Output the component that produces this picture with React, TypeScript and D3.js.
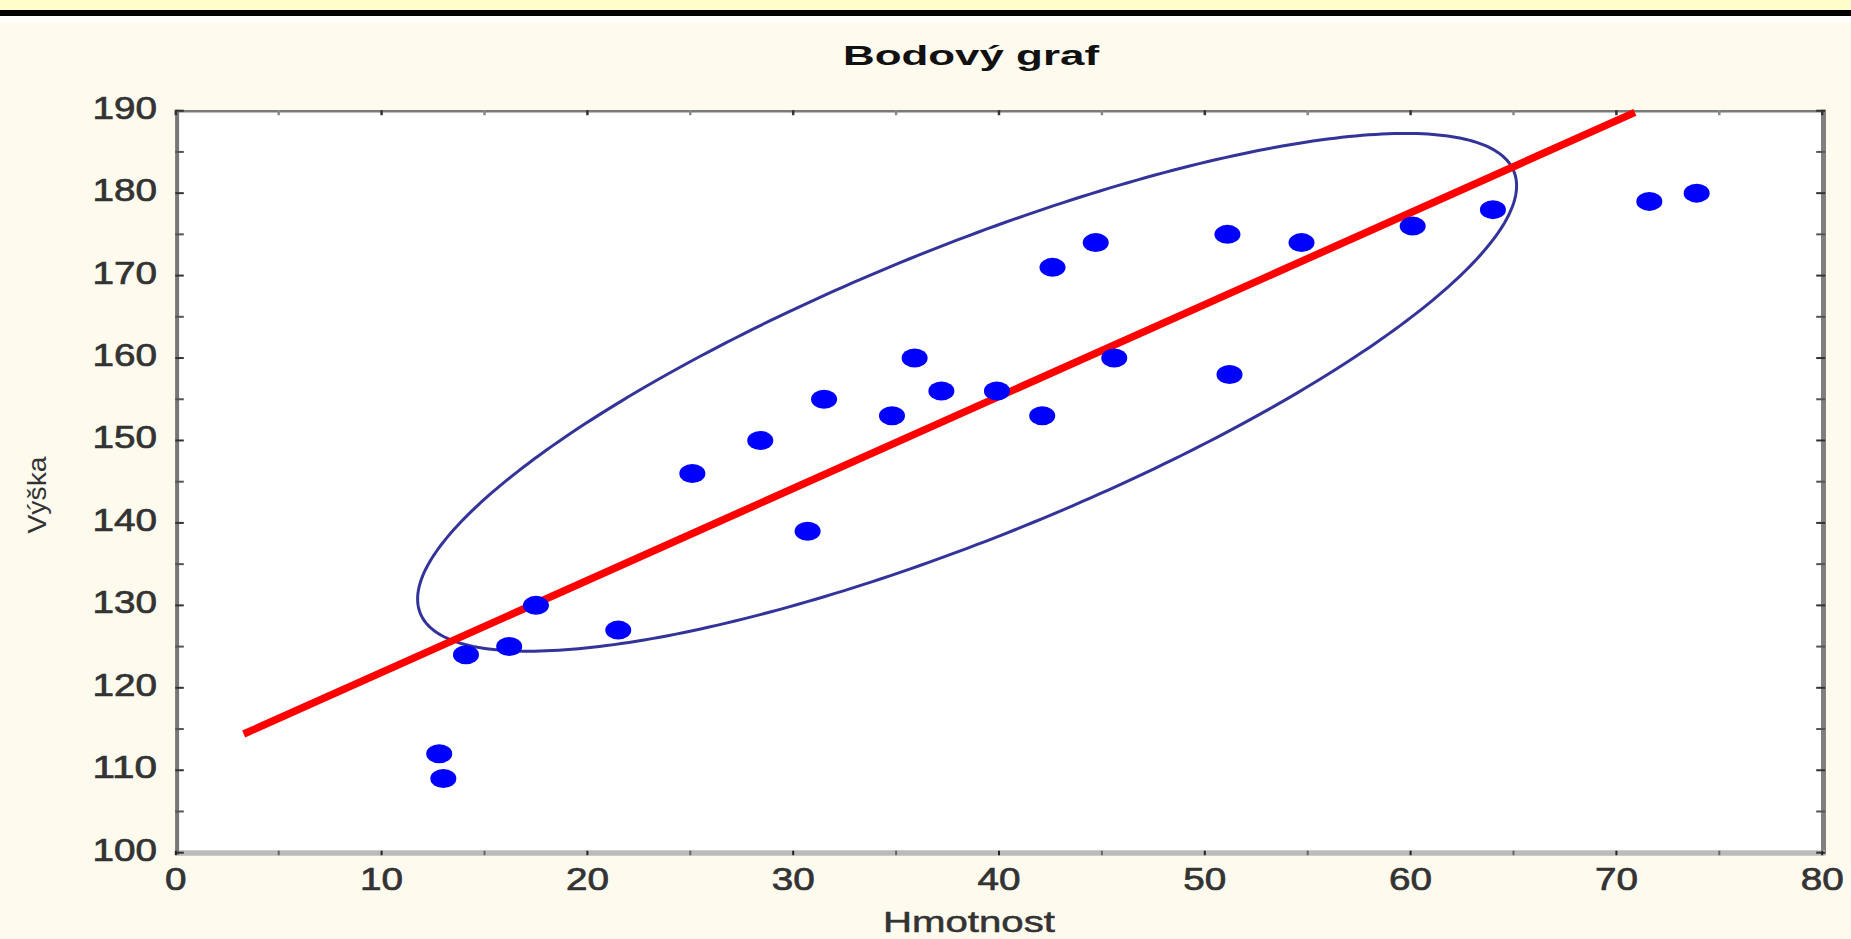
import React, { useEffect } from "react";
import * as d3 from "d3";

// ---- data ----
const hmotnost = [12.8, 13.0, 14.1, 16.2, 17.5, 21.5, 25.1, 28.4, 30.7, 31.5, 34.8, 35.9, 37.2, 39.9, 42.1, 42.6, 44.7, 45.6, 51.1, 51.2, 54.7, 60.1, 64.0, 71.6, 73.9];
const vyska = [112, 109, 124, 125, 130, 127, 146, 150, 139, 155, 153, 160, 156, 156, 153, 171, 174, 160, 175, 158, 174, 176, 178, 179, 180];

// fitted line end points (x, y)
const fitLineX = [3.3, 70.9];
const fitLineY = [114.4, 189.8];

// ellipse: centre, half ranges and correlation
const ellipseCenter = [38.45, 155.84];
const ellipseHalf = [26.7, 31.4];
const ellipseRho = 0.798;

const xTicks = [0, 10, 20, 30, 40, 50, 60, 70, 80];
const yTicks = [100, 110, 120, 130, 140, 150, 160, 170, 180, 190];
const xMinor = [5, 15, 25, 35, 45, 55, 65, 75];
const yMinor = [105, 115, 125, 135, 145, 155, 165, 175, 185];

const title = "Bodový graf";
const xTitle = "Hmotnost";
const yTitle = "Výška";

const W = 1851;
const H = 939;

export default function App() {
  useEffect(() => {
    document.body.style.margin = "0";
    document.body.style.overflow = "hidden";
  }, []);

  const x = d3.scaleLinear().domain([0, 80]).range([175.8, 1822.2]);
  const y = d3.scaleLinear().domain([100, 190]).range([852.7, 110.7]);

  const left = x(0);
  const right = x(80);
  const top = y(190);
  const bottom = y(100);

  const ts = d3.range(0, 361).map((i) => (i / 360) * Math.PI * 2);
  const ellPts: [number, number][] = ts.map((t) => [
    ellipseCenter[0] + ellipseHalf[0] * Math.cos(t),
    ellipseCenter[1] + ellipseHalf[1] * (ellipseRho * Math.cos(t) + Math.sqrt(1 - ellipseRho * ellipseRho) * Math.sin(t)),
  ]);
  const ellPath = d3
    .line<[number, number]>()
    .x((d) => x(d[0]))
    .y((d) => y(d[1]))
    .curve(d3.curveLinearClosed)(ellPts) as string;

  const fitPts: [number, number][] = fitLineX.map((v, i) => [v, fitLineY[i]]);
  const fitPath = d3
    .line<[number, number]>()
    .x((d) => x(d[0]))
    .y((d) => y(d[1]))(fitPts) as string;

  const font = "'Liberation Sans', Arial, sans-serif";
  const digitW = 21.5;
  const labelFill = "#333";

  return (
    <svg width={W} height={H} style={{ position: "absolute", left: 0, top: 0, display: "block" }}>
      {/* backgrounds */}
      <rect x={0} y={0} width={W} height={H} fill="#FEFAEE" />
      <rect x={0} y={0} width={W} height={10} fill="#FFFFCC" />
      <rect x={0} y={10} width={W} height={6} fill="#000" />
      <rect x={0} y={16} width={W} height={6} fill="#FFFFFF" />

      {/* plot area */}
      <rect x={left} y={top} width={right - left} height={bottom - top} fill="#FFFFFF" />

      {/* title */}
      <text
        x={971}
        y={65}
        textAnchor="middle"
        fontFamily={font}
        fontWeight="bold"
        fontSize={28}
        fill="#111"
        textLength={256}
        lengthAdjust="spacingAndGlyphs"
      >
        {title}
      </text>

      {/* frame */}
      <line x1={left} x2={right + 3} y1={top + 0.5} y2={top + 0.5} stroke="#7a7a7a" strokeWidth={2.5} />
      <line x1={right + 1.3} x2={right + 1.3} y1={top - 1} y2={bottom + 2} stroke="#808080" strokeWidth={5} />
      <line x1={left} x2={right + 3} y1={bottom + 0.3} y2={bottom + 0.3} stroke="#BBBBBB" strokeWidth={5.5} />
      <line x1={left + 1.3} x2={left + 1.3} y1={top - 1} y2={bottom + 2} stroke="#777777" strokeWidth={4} />

      {/* ticks */}
      {yTicks.concat(yMinor).map((v) => (
        <g key={"yt" + v}>
          <line x1={left - 0.5} x2={left + 8} y1={y(v)} y2={y(v)} stroke={yMinor.includes(v) ? "#555" : "#333"} strokeWidth={2} />
          <line x1={right - 6} x2={right + 3} y1={y(v)} y2={y(v)} stroke={yMinor.includes(v) ? "#555" : "#333"} strokeWidth={2} />
        </g>
      ))}
      {xTicks.concat(xMinor).map((v) => (
        <g key={"xt" + v}>
          <line x1={x(v)} x2={x(v)} y1={top - 0.5} y2={top + 4.5} stroke={xMinor.includes(v) ? "#888" : "#333"} strokeWidth={2.5} />
          <line x1={x(v)} x2={x(v)} y1={bottom - 2} y2={bottom + 2.5} stroke={xMinor.includes(v) ? "#666" : "#222"} strokeWidth={2} />
        </g>
      ))}

      {/* y tick labels */}
      {yTicks.map((v) => {
        const s = String(v);
        return (
          <text
            key={"yl" + v}
            x={157}
            y={y(v) + 8}
            textAnchor="end"
            fontFamily={font}
            fontSize={31}
            fill={labelFill}
            stroke={labelFill}
            strokeWidth={0.7}
            textLength={s.length * digitW}
            lengthAdjust="spacingAndGlyphs"
          >
            {s}
          </text>
        );
      })}

      {/* x tick labels */}
      {xTicks.map((v) => {
        const s = String(v);
        return (
          <text
            key={"xl" + v}
            x={x(v)}
            y={890}
            textAnchor="middle"
            fontFamily={font}
            fontSize={31}
            fill={labelFill}
            stroke={labelFill}
            strokeWidth={0.7}
            textLength={s.length * digitW}
            lengthAdjust="spacingAndGlyphs"
          >
            {s}
          </text>
        );
      })}

      {/* axis titles */}
      <text
        x={969}
        y={932}
        textAnchor="middle"
        fontFamily={font}
        fontSize={29}
        fill={labelFill}
        stroke={labelFill}
        strokeWidth={0.5}
        textLength={172}
        lengthAdjust="spacingAndGlyphs"
      >
        {xTitle}
      </text>
      <text
        transform={`translate(46, 495) rotate(-90)`}
        textAnchor="middle"
        fontFamily={font}
        fontSize={26}
        fill={labelFill}
        textLength={77}
        lengthAdjust="spacingAndGlyphs"
      >
        {yTitle}
      </text>

      {/* ellipse */}
      <path d={ellPath} fill="none" stroke="#333399" strokeWidth={3} />

      {/* fitted line */}
      <path d={fitPath} fill="none" stroke="#FF0000" strokeWidth={7.5} />

      {/* points */}
      {hmotnost.map((hv, i) => (
        <ellipse key={"p" + i} cx={x(hv)} cy={y(vyska[i])} rx={13} ry={9.5} fill="#0000FF" />
      ))}
    </svg>
  );
}
